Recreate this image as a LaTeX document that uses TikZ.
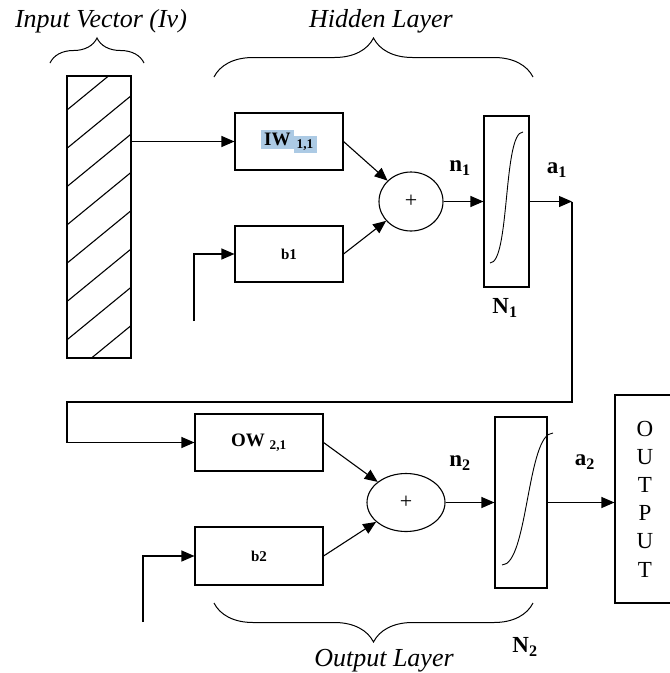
\documentclass[tikz,border=0pt]{standalone}
\usepackage{fontspec}
\setmainfont{Liberation Serif}
\usetikzlibrary{arrows.meta,shapes.geometric,decorations.pathreplacing}
\definecolor{hl}{RGB}{172,202,228}
\tikzset{
  box/.style={draw,line width=1.1pt,rectangle,inner sep=0pt},
  sumnode/.style={draw,line width=1.1pt,ellipse,inner sep=0pt},
  lbl/.style={font=\fontsize{23}{23}\selectfont\bfseries},
  ttl/.style={font=\fontsize{26}{26}\selectfont\itshape},
  brc/.style={decorate,line width=1pt,decoration={brace,amplitude=#1}}
}
\begin{document}
\begin{tikzpicture}[x=1pt,y=-1pt,line width=1.1pt,>={Triangle[length=13pt,width=11pt]}]
\useasboundingbox (0,0) rectangle (670,673);
% input vector
\node[box,minimum width=64,minimum height=282] (iv) at (99,217) {};
\begin{scope}
\clip (iv.south west) rectangle (iv.north east);
\foreach \k in {0,...,7}
  \draw (67,110+38.3*\k) -- ++(70,-57.4);
\end{scope}
\node[ttl] (ivtxt) at (101,21) {Input Vector (Iv)};
\draw[brc=25pt] (50,63) -- (144,63);
% hidden layer
\node[ttl] (hidtxt) at (381,21) {Hidden Layer};
\draw[brc=39pt] (214,77) -- (533,77);
\node[box,minimum width=108,minimum height=57] (iw) at (289,141.5)
  {\fontsize{19}{19}\selectfont\bfseries\colorbox{hl}{IW}\colorbox{hl}{\textsubscript{1,1}}};
\node[box,minimum width=108,minimum height=56] (bone) at (289,254)
  {\fontsize{15}{15}\selectfont\bfseries b1};
\node[sumnode,minimum width=64,minimum height=59] (sumone) at (411,201.5)
  {\fontsize{22}{22}\selectfont +};
\node[box,minimum width=45,minimum height=171] (none) at (506.5,201.5) {};
\draw[line width=0.9pt] (490,263) .. controls (510,263) and (503,132) .. (523,132);
\coordinate (bonein) at (194,321);
\coordinate (aone) at (572,201.5);
\draw[->] (iw.west -| iv.east) -- (iw.west);
\draw[->] (bonein) |- (bone.west);
\draw[->] (iw.east) -- (sumone);
\draw[->] (bone.east) -- (sumone);
\draw[->] (sumone.east) -- (none.west);
\draw[->] (none.east) -- (aone);
\node[lbl] (nonetxt) at (460,168) {n\textsubscript{1}};
\node[lbl] (aonetxt) at (557,170) {a\textsubscript{1}};
\node[lbl] (Nonetxt) at (505,308) {N\textsubscript{1}};
% feedback to output layer
\coordinate (fbr) at (572,402);
\coordinate (fbl) at (67,402);
\node[box,minimum width=128,minimum height=57] (ow) at (259,442.5)
  {\fontsize{19}{19}\selectfont\bfseries OW \textsubscript{2,1}};
\draw[->] (aone) -- (fbr) -- (fbl) |- (ow.west);
% output layer
\node[box,minimum width=128,minimum height=58] (btwo) at (259,556)
  {\fontsize{15}{15}\selectfont\bfseries b2};
\node[sumnode,minimum width=78,minimum height=58] (sumtwo) at (406,502.5)
  {\fontsize{22}{22}\selectfont +};
\node[box,minimum width=52,minimum height=171] (ntwo) at (521,502.5) {};
\draw[line width=0.9pt] (502,565) .. controls (528,565) and (527,433) .. (553,433);
\node[box,minimum width=60,minimum height=208,align=center,
  font=\fontsize{23}{28.2}\selectfont] (out) at (645,499)
  {O\\U\\T\\P\\U\\T};
\coordinate (btwoin) at (143,622);
\draw[->] (btwoin) |- (btwo.west);
\draw[->] (ow.east) -- (sumtwo);
\draw[->] (btwo.east) -- (sumtwo);
\draw[->] (sumtwo.east) -- (ntwo.west);
\draw[->] (ntwo.east) -- (out.west |- ntwo.east);
\node[lbl] (ntwotxt) at (460,463) {n\textsubscript{2}};
\node[lbl] (atwotxt) at (585,462) {a\textsubscript{2}};
\node[lbl] (Ntwotxt) at (525,647) {N\textsubscript{2}};
\draw[brc=39pt] (533,603) -- (214,603);
\node[ttl] (outtxt) at (384,661) {Output Layer};
\end{tikzpicture}
\end{document}
